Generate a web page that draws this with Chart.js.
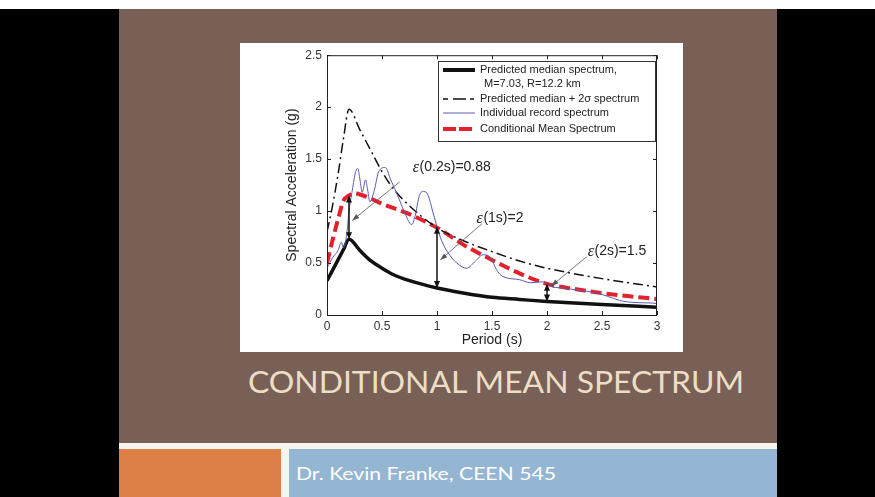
<!DOCTYPE html>
<html>
<head>
<meta charset="utf-8">
<script src="https://cdn.jsdelivr.net/npm/chart.js@4.4.0/dist/chart.umd.min.js"></script>
<style>
  html, body { margin: 0; padding: 0; background: #000; width: 875px; height: 497px; overflow: hidden; }
  .blk { position: absolute; }
  #topline { left: 0; top: 0; width: 875px; height: 9px; background: #fff; }
  #slide { left: 119px; top: 9px; width: 658px; height: 434px; background: #786056; }
  #stripe { left: 119px; top: 443px; width: 658px; height: 54px; background: #f7f3ee; }
  #orange { left: 119px; top: 449px; width: 162px; height: 48px; background: #dd8047; }
  #blue { left: 289px; top: 449px; width: 488px; height: 48px; background: #94b6d2; }
  #wrap { left: 240px; top: 43px; width: 443px; height: 309px; background: #fff; }
  #title { left: 248px; top: 366px; font: 30px Lato, sans-serif; line-height: 30px; color: #ecdec4; white-space: nowrap; transform-origin: 0 0; }
  #sub { left: 296px; top: 464px; font: 18px Lato, sans-serif; line-height: 18px; color: #fff; white-space: nowrap; transform-origin: 0 0; }
</style>
</head>
<body>
<div class="blk" id="topline"></div>
<div class="blk" id="slide"></div>
<div class="blk" id="stripe"></div>
<div class="blk" id="orange"></div>
<div class="blk" id="blue"></div>
<div class="blk" id="wrap"><canvas id="cms" width="443" height="309"></canvas></div>
<div class="blk" id="title">CONDITIONAL MEAN SPECTRUM</div>
<div class="blk" id="sub">Dr. Kevin Franke, CEEN 545</div>
<script>
// fit the slide text to the widths measured on the reference
function fitWidth(id, w) {
  const el = document.getElementById(id);
  el.style.transform = "scaleX(" + (w / el.getBoundingClientRect().width) + ")";
}
fitWidth("title", 496);
fitWidth("sub", 260);

const ctx = document.getElementById("cms");

// period (s) and spectral acceleration (g)
const medianT = [0, 0.05, 0.1, 0.15, 0.2, 0.3, 0.4, 0.5, 0.6, 0.75, 1.0, 1.25, 1.5, 1.75, 2.0, 2.5, 3.0];
const medianSa = [0.33, 0.43, 0.53, 0.63, 0.73, 0.62, 0.52, 0.45, 0.39, 0.33, 0.26, 0.21, 0.17, 0.15, 0.13, 0.1, 0.075];

const plusT = [0, 0.05, 0.1, 0.15, 0.2, 0.3, 0.4, 0.5, 0.6, 0.75, 1.0, 1.25, 1.5, 1.75, 2.0, 2.5, 3.0];
const plusSa = [0.8, 1.05, 1.35, 1.7, 1.98, 1.78, 1.58, 1.38, 1.22, 1.05, 0.84, 0.71, 0.61, 0.52, 0.45, 0.35, 0.27];

const recordT = [0, 0.05, 0.1, 0.13, 0.15, 0.18, 0.2, 0.23, 0.26, 0.28, 0.3, 0.32, 0.35, 0.37, 0.39, 0.43, 0.47, 0.53,
  0.58, 0.65, 0.7, 0.77, 0.8, 0.84, 0.88, 0.92, 0.96, 1.0, 1.04, 1.1, 1.18, 1.27, 1.35, 1.42, 1.48, 1.55, 1.6,
  1.75, 1.85, 1.96, 2.05, 2.15, 2.27, 2.42, 2.55, 2.66, 2.8, 2.96, 3.0];
const recordSa = [0.45, 0.55, 0.62, 0.7, 0.65, 0.78, 1.0, 1.2, 1.38, 1.41, 1.3, 1.18, 1.3, 1.2, 1.09, 1.2, 1.38, 1.42,
  1.3, 1.13, 1.0, 0.87, 0.95, 1.15, 1.19, 1.15, 1.0, 0.85, 0.72, 0.6, 0.5, 0.45, 0.52, 0.58, 0.56, 0.42, 0.37,
  0.34, 0.31, 0.32, 0.27, 0.26, 0.24, 0.22, 0.18, 0.14, 0.12, 0.115, 0.11];

const cmsT = [0, 0.05, 0.1, 0.15, 0.2, 0.25, 0.3, 0.4, 0.5, 0.6, 0.75, 1.0, 1.25, 1.5, 1.75, 2.0, 2.25, 2.5, 2.75, 3.0];
const cmsSa = [0.5, 0.72, 0.92, 1.1, 1.15, 1.17, 1.16, 1.12, 1.07, 1.03, 0.97, 0.84, 0.67, 0.53, 0.4, 0.3, 0.25, 0.21, 0.18, 0.155];

const xTicks = [0, 0.5, 1, 1.5, 2, 2.5, 3];
const yTicks = [0, 0.5, 1, 1.5, 2, 2.5];

// epsilon markers: period, median value, CMS value
const epsNames = ["(0.2s)=0.88", "(1s)=2", "(2s)=1.5"];
const epsT = [0.2, 1, 2];
const epsLow = [0.73, 0.26, 0.13];
const epsHigh = [1.15, 0.85, 0.3];

const legendNames = ["Predicted median spectrum,", "Predicted median + 2\u03c3 spectrum", "Individual record spectrum", "Conditional Mean Spectrum"];

function pts(t, sa) {
  return t.map((v, i) => ({ x: v, y: sa[i] }));
}

// where the epsilon labels and their leaders sit (data units)
const epsLabelAt = [[0.78, 1.42], [1.36, 0.93], [2.37, 0.61]];
const epsLeader = [[[0.66, 1.28], [0.23, 0.91]], [[1.41, 0.88], [1.03, 0.53]], [[2.36, 0.56], [2.04, 0.28]]];

function arrowHead(c, x1, y1, x2, y2, size, width) {
  const a = Math.atan2(y2 - y1, x2 - x1);
  c.beginPath();
  c.moveTo(x2, y2);
  c.lineTo(x2 - size * Math.cos(a) + width * Math.sin(a), y2 - size * Math.sin(a) - width * Math.cos(a));
  c.lineTo(x2 - size * Math.cos(a) - width * Math.sin(a), y2 - size * Math.sin(a) + width * Math.cos(a));
  c.closePath();
  c.fill();
}

const matlabFrame = {
  id: "matlabFrame",
  afterDatasetsDraw(chart) {
    const c = chart.ctx;
    const a = chart.chartArea;
    const xs = chart.scales.x;
    const ys = chart.scales.y;
    c.save();
    c.strokeStyle = "#222";
    c.lineWidth = 1;
    c.strokeRect(a.left + 0.5, a.top + 0.5, a.right - a.left - 1, a.bottom - a.top);
    c.beginPath();
    xTicks.forEach((v) => {
      const px = Math.round(xs.getPixelForValue(v)) + 0.5;
      c.moveTo(px, a.bottom); c.lineTo(px, a.bottom - 4);
      c.moveTo(px, a.top); c.lineTo(px, a.top + 4);
    });
    yTicks.forEach((v) => {
      const py = Math.round(ys.getPixelForValue(v)) + 0.5;
      c.moveTo(a.left, py); c.lineTo(a.left + 4, py);
      c.moveTo(a.right, py); c.lineTo(a.right - 4, py);
    });
    c.stroke();

    // double arrows between median and CMS
    c.strokeStyle = "#111";
    c.fillStyle = "#111";
    c.lineWidth = 1.5;
    epsT.forEach((t, i) => {
      const px = xs.getPixelForValue(t);
      const lo = ys.getPixelForValue(epsLow[i]);
      const hi = ys.getPixelForValue(epsHigh[i]);
      c.beginPath();
      c.moveTo(px, lo - 2); c.lineTo(px, hi + 2);
      c.stroke();
      arrowHead(c, px, (lo + hi) / 2, px, hi, 7, 3);
      arrowHead(c, px, (lo + hi) / 2, px, lo, 7, 3);
    });

    // leaders and labels
    c.strokeStyle = "#555";
    c.fillStyle = "#555";
    c.lineWidth = 0.8;
    epsLeader.forEach((l) => {
      const x1 = xs.getPixelForValue(l[0][0]), y1 = ys.getPixelForValue(l[0][1]);
      const x2 = xs.getPixelForValue(l[1][0]), y2 = ys.getPixelForValue(l[1][1]);
      c.beginPath();
      c.moveTo(x1, y1); c.lineTo(x2, y2);
      c.stroke();
      arrowHead(c, x1, y1, x2, y2, 7, 2.5);
    });
    c.fillStyle = "#222";
    c.textBaseline = "middle";
    c.textAlign = "left";
    epsNames.forEach((name, i) => {
      let px = xs.getPixelForValue(epsLabelAt[i][0]);
      const py = ys.getPixelForValue(epsLabelAt[i][1]);
      c.font = "italic 16px 'Liberation Serif'";
      c.fillText("\u03b5", px, py);
      px += c.measureText("\u03b5").width + 0.5;
      c.font = "14px 'Liberation Sans'";
      c.fillText(name, px, py);
    });

    // legend box
    const lx = 198, ly = 18, lw = a.right - 2 - lx, lh = 80;
    c.fillStyle = "#fff";
    c.fillRect(lx, ly, lw, lh);
    c.strokeStyle = "#333";
    c.lineWidth = 1;
    c.strokeRect(lx + 0.5, ly + 0.5, lw, lh);
    const rows = [9, 38, 52, 68];
    const styles = [
      { color: "#111", width: 4, dash: [] },
      { color: "#111", width: 1.5, dash: [5, 5, 13, 4, 4] },
      { color: "#5a5cb0", width: 1, dash: [] },
      { color: "#e3202c", width: 4, dash: [13, 3] },
    ];
    c.font = "11px 'Liberation Sans'";
    legendNames.forEach((name, i) => {
      const s = styles[i];
      c.save();
      c.strokeStyle = s.color;
      c.lineWidth = s.width;
      c.setLineDash(s.dash);
      c.beginPath();
      c.moveTo(lx + 5, ly + rows[i]);
      c.lineTo(lx + 37, ly + rows[i]);
      c.stroke();
      c.restore();
      c.fillStyle = "#222";
      c.fillText(name, lx + 42, ly + rows[i]);
    });
    c.fillText("M=7.03, R=12.2 km", lx + 46, ly + 23);
    c.restore();
  },
};

const cmsChart = new Chart(ctx, {
  type: "line",
  data: {
    datasets: [
      {
        label: "Individual record spectrum",
        data: pts(recordT, recordSa),
        borderColor: "#5a5cb0",
        borderWidth: 1,
        cubicInterpolationMode: "monotone",
      },
      {
        label: "Predicted median + 2\u03c3 spectrum",
        data: pts(plusT, plusSa),
        borderColor: "#111",
        borderWidth: 1.5,
        borderDash: [10, 4, 2, 4],
        cubicInterpolationMode: "monotone",
      },
      {
        label: "Conditional Mean Spectrum",
        data: pts(cmsT, cmsSa),
        borderColor: "#e3202c",
        borderWidth: 4,
        borderDash: [11, 5],
        cubicInterpolationMode: "monotone",
      },
      {
        label: "Predicted median spectrum",
        data: pts(medianT, medianSa),
        borderColor: "#111",
        borderWidth: 3.5,
        cubicInterpolationMode: "monotone",
      },
    ],
  },
  options: {
    responsive: false,
    devicePixelRatio: 1,
    animation: false,
    layout: { padding: { left: 40, top: 12, right: 26, bottom: 0 } },
    elements: { point: { radius: 0 } },
    plugins: { legend: { display: false }, tooltip: { enabled: false } },
    scales: {
      x: {
        type: "linear",
        min: 0,
        max: 3,
        afterBuildTicks: (s) => { s.ticks = xTicks.map((v) => ({ value: v })); },
        afterFit: (s) => { s.height = 37; },
        grid: { drawOnChartArea: false, drawTicks: false },
        border: { display: false },
        ticks: { padding: 4, color: "#333", font: { family: "Liberation Sans", size: 12 }, callback: (v) => String(v) },
        title: {
          display: true,
          text: "Period (s)",
          color: "#222",
          font: { family: "Liberation Sans", size: 14 },
          padding: { top: 0, bottom: 3 },
        },
      },
      y: {
        min: 0,
        max: 2.5,
        afterBuildTicks: (s) => { s.ticks = yTicks.map((v) => ({ value: v })); },
        afterFit: (s) => { s.width = 47; },
        grid: { drawOnChartArea: false, drawTicks: false },
        border: { display: false },
        ticks: { padding: 5, color: "#333", font: { family: "Liberation Sans", size: 12 }, callback: (v) => String(v) },
        title: {
          display: true,
          text: "Spectral Acceleration (g)",
          color: "#222",
          font: { family: "Liberation Sans", size: 14 },
          padding: { top: 4, bottom: 4 },
        },
      },
    },
  },
  plugins: [matlabFrame],
});
</script>
</body>
</html>
